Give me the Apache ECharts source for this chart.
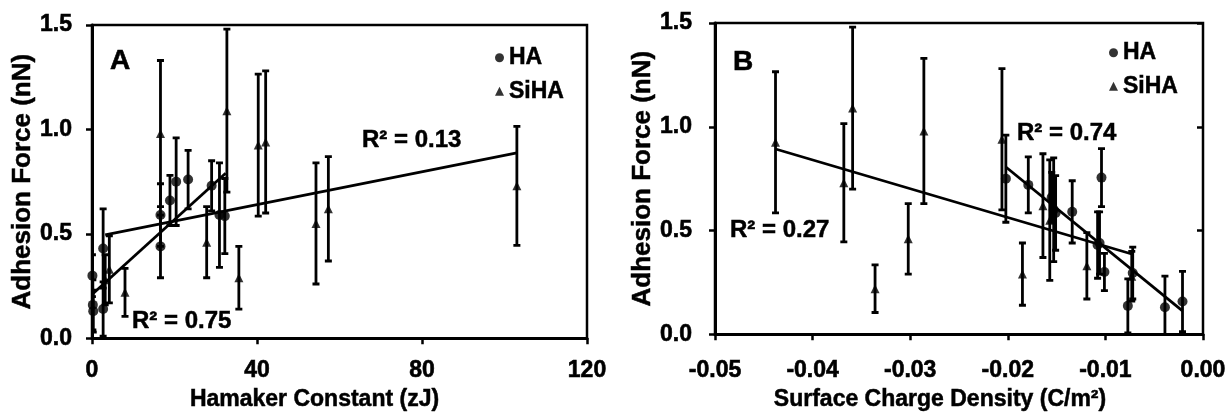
<!DOCTYPE html>
<html>
<head>
<meta charset="utf-8">
<script src="https://cdn.jsdelivr.net/npm/echarts@6/dist/echarts.min.js"></script>
<style>
html,body{margin:0;padding:0;background:#fff;}
#chart{width:1231px;height:416px;}
</style>
</head>
<body>
<div id="chart"></div>
<script>
// ---------- Panel A: Hamaker constant (zJ) ----------
const haX_A   = [0.1, 0.2, 0.3, 2.7, 2.7, 16.6, 16.6, 18.9, 20.4, 23.3, 29.0, 30.9, 32.2];
const haY_A   = [0.30, 0.16, 0.13, 0.43, 0.14, 0.59, 0.44, 0.66, 0.75, 0.76, 0.73, 0.59, 0.585];
const haErr_A = [0.10, 0.12, 0.10, 0.19, 0.13, 0.15, 0.15, 0.12, 0.21, 0.14, 0.12, 0.25, 0.18];

const sihaX_A = [3.2, 4.2, 8.0, 16.6, 27.8, 32.7, 35.6, 40.3, 42.1, 54.3, 57.3, 103];
// ---------- Panel B: surface charge density (C/m2) ----------
const sihaX_B = [-0.0073, -0.0119, -0.0336, -0.0286, -0.0302, -0.0359, -0.0185, -0.0438, -0.0206, -0.0157, -0.0164, -0.0368];
// SiHA adhesion force values (same samples in both panels)
const sihaY   = [0.28, 0.33, 0.22, 0.98, 0.46, 1.09, 0.29, 0.925, 0.94, 0.55, 0.62, 0.73];
const sihaErr = [0.12, 0.16, 0.115, 0.35, 0.17, 0.39, 0.15, 0.34, 0.34, 0.29, 0.25, 0.285];

const haX_B   = [-0.0202, -0.0179, -0.0155, -0.0153, -0.0151, -0.0134, -0.0104, -0.0106, -0.0108, -0.0101, -0.0072, -0.0077, -0.0039, -0.0021];
const haY_B   = [0.75, 0.72, 0.66, 0.60, 0.585, 0.59, 0.755, 0.44, 0.43, 0.30, 0.295, 0.137, 0.13, 0.158];
const haErr_B = [0.21, 0.135, 0.12, 0.25, 0.18, 0.15, 0.14, 0.15, 0.16, 0.09, 0.125, 0.13, 0.15, 0.145];

// trendline end points
const haFitA   = [[0, 0.21], [32.4, 0.79]];
const sihaFitA = [[3.2, 0.495], [103, 0.888]];
const haFitB   = [[-0.0202, 0.806], [-0.0021, 0.113]];
const sihaFitB = [[-0.0438, 0.893], [-0.0073, 0.387]];

// axis ticks
const xTicksA = [0, 40, 80, 120];
const xTicksB = [-0.05, -0.04, -0.03, -0.02, -0.01, 0.00];
const yTicks  = [0.0, 0.5, 1.0, 1.5];

const FONT = "'Liberation Sans', Arial, sans-serif";

function pts(xs, ys){ return xs.map((x,i)=>[x, ys[i]]); }
function bars(xs, ys, es){ return xs.map((x,i)=>[x, ys[i]-es[i], ys[i]+es[i]]); }

function errorItem(params, api){
  const x = api.value(0), lo = api.value(1), hi = api.value(2);
  const p1 = api.coord([x, hi]), p2 = api.coord([x, lo]);
  const w = 3.5;
  const st = {stroke:'#000', lineWidth:2.8};
  return {type:'group', children:[
    {type:'line', shape:{x1:p1[0], y1:p1[1], x2:p2[0], y2:p2[1]}, style:st},
    {type:'line', shape:{x1:p1[0]-w, y1:p1[1], x2:p1[0]+w, y2:p1[1]}, style:st},
    {type:'line', shape:{x1:p2[0]-w, y1:p2[1], x2:p2[0]+w, y2:p2[1]}, style:st}
  ]};
}

const labelStyle = {color:'#000', fontSize:23, fontWeight:'bold', fontFamily:FONT, textBorderColor:'#000', textBorderWidth:0.6};
const nameStyle  = {color:'#000', fontSize:23, fontWeight:'bold', fontFamily:FONT, textBorderColor:'#000', textBorderWidth:0.5};

const axisCommon = {
  axisLine:{show:true, onZero:false, lineStyle:{color:'#000', width:3}},
  axisTick:{show:true, inside:false, length:6, lineStyle:{color:'#000', width:2.5}},
  splitLine:{show:false}
};

function yAxisDef(grid, gap, lmargin){
  return Object.assign({}, axisCommon, {
    type:'value', gridIndex:grid, min:yTicks[0], max:yTicks[yTicks.length-1],
    interval:yTicks[1]-yTicks[0],
    name:'Adhesion Force (nN)', nameLocation:'middle', nameGap:gap, nameRotate:90,
    nameTextStyle:Object.assign({}, nameStyle, {fontSize:26}),
    axisLabel:Object.assign({}, labelStyle, {margin:lmargin, formatter:v=>v.toFixed(1)})
  });
}

const chart = echarts.init(document.getElementById('chart'), null, {renderer:'canvas'});
const legendText = {color:'#000', fontSize:23, fontWeight:'bold', fontFamily:FONT, textBorderColor:'#000', textBorderWidth:0.5};
const option = {
  backgroundColor:'#fff',
  animation:false,
  grid:[
    {left:92, top:25, width:495, height:317, show:true, borderColor:'#000', borderWidth:2.5, backgroundColor:'transparent'},
    {left:715, top:23, width:488, height:314, show:true, borderColor:'#000', borderWidth:2.5, backgroundColor:'transparent'}
  ],
  xAxis:[
    Object.assign({}, axisCommon, {
      type:'value', gridIndex:0, min:xTicksA[0], max:xTicksA[xTicksA.length-1], interval:xTicksA[1]-xTicksA[0],
      name:'Hamaker Constant (zJ)', nameLocation:'middle', nameGap:48,
      nameTextStyle:Object.assign({}, nameStyle, {padding:[0,50,0,0]}),
      axisLabel:Object.assign({}, labelStyle, {margin:21})
    }),
    Object.assign({}, axisCommon, {
      type:'value', gridIndex:1, min:xTicksB[0], max:xTicksB[xTicksB.length-1], interval:0.01,
      name:'Surface Charge Density (C/m²)', nameLocation:'middle', nameGap:52,
      nameTextStyle:Object.assign({}, nameStyle, {padding:[0,38,0,0]}),
      axisLabel:Object.assign({}, labelStyle, {margin:25, formatter:v=>v.toFixed(2)})
    })
  ],
  yAxis:[
    yAxisDef(0, 53, 20),
    yAxisDef(1, 56, 23),
    {type:'value', gridIndex:1, position:'right', min:0, max:1.5, interval:0.5,
     axisLine:{show:false}, axisLabel:{show:false}, splitLine:{show:false},
     axisTick:{show:true, inside:true, length:6, lineStyle:{color:'#000', width:2.5}}}
  ],
  legend:[
    {orient:'vertical', left:490, top:41, itemWidth:9, itemHeight:9, itemGap:10,
     textStyle:legendText,
     data:[{name:'HA', icon:'circle'}, {name:'SiHA', icon:'triangle'}], selectedMode:false},
    {orient:'vertical', left:1104, top:36, itemWidth:9, itemHeight:9, itemGap:10,
     textStyle:legendText,
     data:[{name:'HA', icon:'circle'}, {name:'SiHA', icon:'triangle'}], selectedMode:false}
  ],
  series:[
    // Panel A
    {type:'custom', xAxisIndex:0, yAxisIndex:0, renderItem:errorItem, clip:true, data:bars(haX_A, haY_A, haErr_A), z:2},
    {type:'custom', xAxisIndex:0, yAxisIndex:0, renderItem:errorItem, clip:true, data:bars(sihaX_A, sihaY, sihaErr), z:2},
    {type:'line', xAxisIndex:0, yAxisIndex:0, data:haFitA, symbol:'none', lineStyle:{color:'#000', width:2.8}, z:3},
    {type:'line', xAxisIndex:0, yAxisIndex:0, data:sihaFitA, symbol:'none', lineStyle:{color:'#000', width:2.8}, z:3},
    {name:'HA', type:'scatter', xAxisIndex:0, yAxisIndex:0, symbol:'circle', symbolSize:10, itemStyle:{color:'#000'}, data:pts(haX_A, haY_A), z:4},
    {name:'SiHA', type:'scatter', xAxisIndex:0, yAxisIndex:0, symbol:'triangle', symbolSize:9, itemStyle:{color:'#000'}, data:pts(sihaX_A, sihaY), z:4},
    // Panel B
    {type:'custom', xAxisIndex:1, yAxisIndex:1, renderItem:errorItem, clip:true, data:bars(haX_B, haY_B, haErr_B), z:2},
    {type:'custom', xAxisIndex:1, yAxisIndex:1, renderItem:errorItem, clip:true, data:bars(sihaX_B, sihaY, sihaErr), z:2},
    {type:'line', xAxisIndex:1, yAxisIndex:1, data:haFitB, symbol:'none', lineStyle:{color:'#000', width:2.8}, z:3},
    {type:'line', xAxisIndex:1, yAxisIndex:1, data:sihaFitB, symbol:'none', lineStyle:{color:'#000', width:2.8}, z:3},
    {name:'HA', type:'scatter', xAxisIndex:1, yAxisIndex:1, symbol:'circle', symbolSize:10, itemStyle:{color:'#000'}, data:pts(haX_B, haY_B), z:4},
    {name:'SiHA', type:'scatter', xAxisIndex:1, yAxisIndex:1, symbol:'triangle', symbolSize:9, itemStyle:{color:'#000'}, data:pts(sihaX_B, sihaY), z:4}
  ],
  graphic:[
    {type:'text', x:110, y:61, style:{text:'A', font:"bold 28px 'Liberation Sans', Arial, sans-serif", fill:'#000', stroke:'#000', lineWidth:0.6, verticalAlign:'middle'}},
    {type:'text', x:733, y:62, style:{text:'B', font:"bold 28px 'Liberation Sans', Arial, sans-serif", fill:'#000', stroke:'#000', lineWidth:0.6, verticalAlign:'middle'}},
    {type:'text', x:362, y:140, style:{text:'R² = 0.13', font:"bold 24px 'Liberation Sans', Arial, sans-serif", fill:'#000', stroke:'#000', lineWidth:0.5, verticalAlign:'middle'}},
    {type:'text', x:132, y:321, style:{text:'R² = 0.75', font:"bold 24px 'Liberation Sans', Arial, sans-serif", fill:'#000', stroke:'#000', lineWidth:0.5, verticalAlign:'middle'}},
    {type:'text', x:730, y:230, style:{text:'R² = 0.27', font:"bold 24px 'Liberation Sans', Arial, sans-serif", fill:'#000', stroke:'#000', lineWidth:0.5, verticalAlign:'middle'}},
    {type:'text', x:1017, y:133, style:{text:'R² = 0.74', font:"bold 24px 'Liberation Sans', Arial, sans-serif", fill:'#000', stroke:'#000', lineWidth:0.5, verticalAlign:'middle'}}
  ]
};
chart.setOption(option);
</script>
</body>
</html>
